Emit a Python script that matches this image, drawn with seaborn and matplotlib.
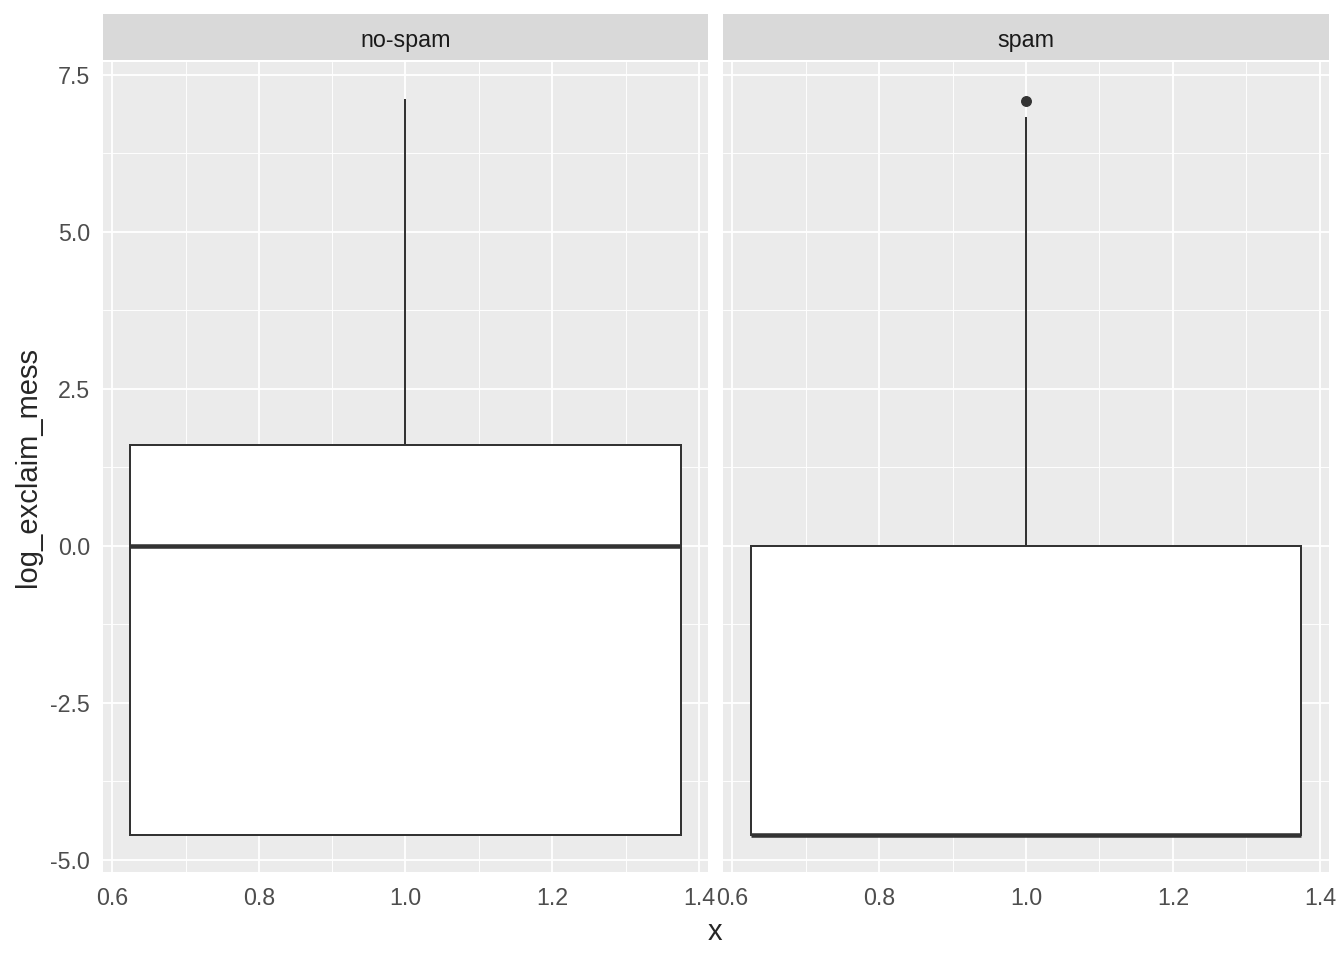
import numpy as np
import pandas as pd
import seaborn as sns
import matplotlib.pyplot as plt
from matplotlib.patches import Rectangle
from matplotlib.ticker import MultipleLocator

# values (log of exclamation counts)
nospam_vals = [-4.61, -4.61, 0.0, 1.6, 7.12]
spam_vals = [-4.61, -4.61, -4.61, -4.61, -4.61, 0.0, 0.0, 6.83, 7.09]
facets = ['no-spam', 'spam']

df = pd.DataFrame({
    'x': [1.0] * (len(nospam_vals) + len(spam_vals)),
    'log_exclaim_mess': nospam_vals + spam_vals,
    'spam': ['no-spam'] * len(nospam_vals) + ['spam'] * len(spam_vals),
})

sns.set_theme(style='white')
plt.rcParams['font.family'] = ['Liberation Sans', 'DejaVu Sans']

fig = plt.figure(figsize=(14, 10), dpi=96)
W, H = 1344, 960
panels = [(103, 708), (723, 1329)]
ptop, pbot = 62, 872

lo, hi = df['log_exclaim_mess'].min(), df['log_exclaim_mess'].max()
pad = 0.05 * (hi - lo)

for i, (name, (xl, xr)) in enumerate(zip(facets, panels)):
    ax = fig.add_axes([xl / W, (H - pbot) / H, (xr - xl) / W, (pbot - ptop) / H])
    ax.set_facecolor('#EBEBEB')
    sub = df[df['spam'] == name]
    sns.boxplot(data=sub, x='x', y='log_exclaim_mess', native_scale=True,
                width=0.75, color='white', linecolor='#333333', linewidth=1.5,
                fill=True, ax=ax,
                boxprops={'facecolor': 'white', 'edgecolor': '#333333'},
                medianprops={'linewidth': 3.4, 'color': '#333333'},
                capprops={'linewidth': 0},
                flierprops={'marker': 'o', 'markerfacecolor': '#333333',
                            'markeredgecolor': '#333333', 'markersize': 7.2})
    ax.set_xlim(0.5875, 1.4125)
    ax.set_ylim(lo - pad, hi + pad)
    ax.xaxis.set_major_locator(MultipleLocator(0.2))
    ax.xaxis.set_minor_locator(MultipleLocator(0.1))
    ax.yaxis.set_major_locator(MultipleLocator(2.5))
    ax.yaxis.set_minor_locator(MultipleLocator(1.25))
    ax.set_xticks([0.6, 0.8, 1.0, 1.2, 1.4])
    ax.set_xticklabels(['0.6', '0.8', '1.0', '1.2', '1.4'])
    ax.grid(which='major', color='white', linewidth=1.4)
    ax.grid(which='minor', color='white', linewidth=0.7)
    ax.set_axisbelow(True)
    for s in ax.spines.values():
        s.set_visible(False)
    ax.tick_params(which='major', length=5.2, width=1.3, color='#333333',
                   labelsize=17.4, labelcolor='#4D4D4D', pad=4.5)
    ax.tick_params(axis='x', which='major', pad=6)
    ax.tick_params(which='minor', length=0)
    ax.set_xlabel('')
    ax.set_ylabel('')
    if i == 1:
        ax.tick_params(axis='y', which='both', left=False, labelleft=False)
    else:
        ax.yaxis.set_major_formatter(plt.FuncFormatter(lambda v, p: f'{v:.1f}'))

    # facet strip
    fig.patches.append(Rectangle((xl / W, (H - 60) / H), (xr - xl) / W, 46 / H,
                                 transform=fig.transFigure, facecolor='#D9D9D9',
                                 edgecolor='none', zorder=0))
    fig.text((xl + xr) / 2 / W, (H - 40) / H, name, ha='center', va='center',
             fontsize=17.4, color='#1A1A1A')

fig.text(715 / W, (H - 932) / H, 'x', ha='center', va='center', fontsize=21.8)
fig.text(28 / W, (H - 467) / H, 'log_exclaim_mess', ha='center', va='center',
         rotation=90, fontsize=21.8)

fig.savefig('out.png', dpi=96)
